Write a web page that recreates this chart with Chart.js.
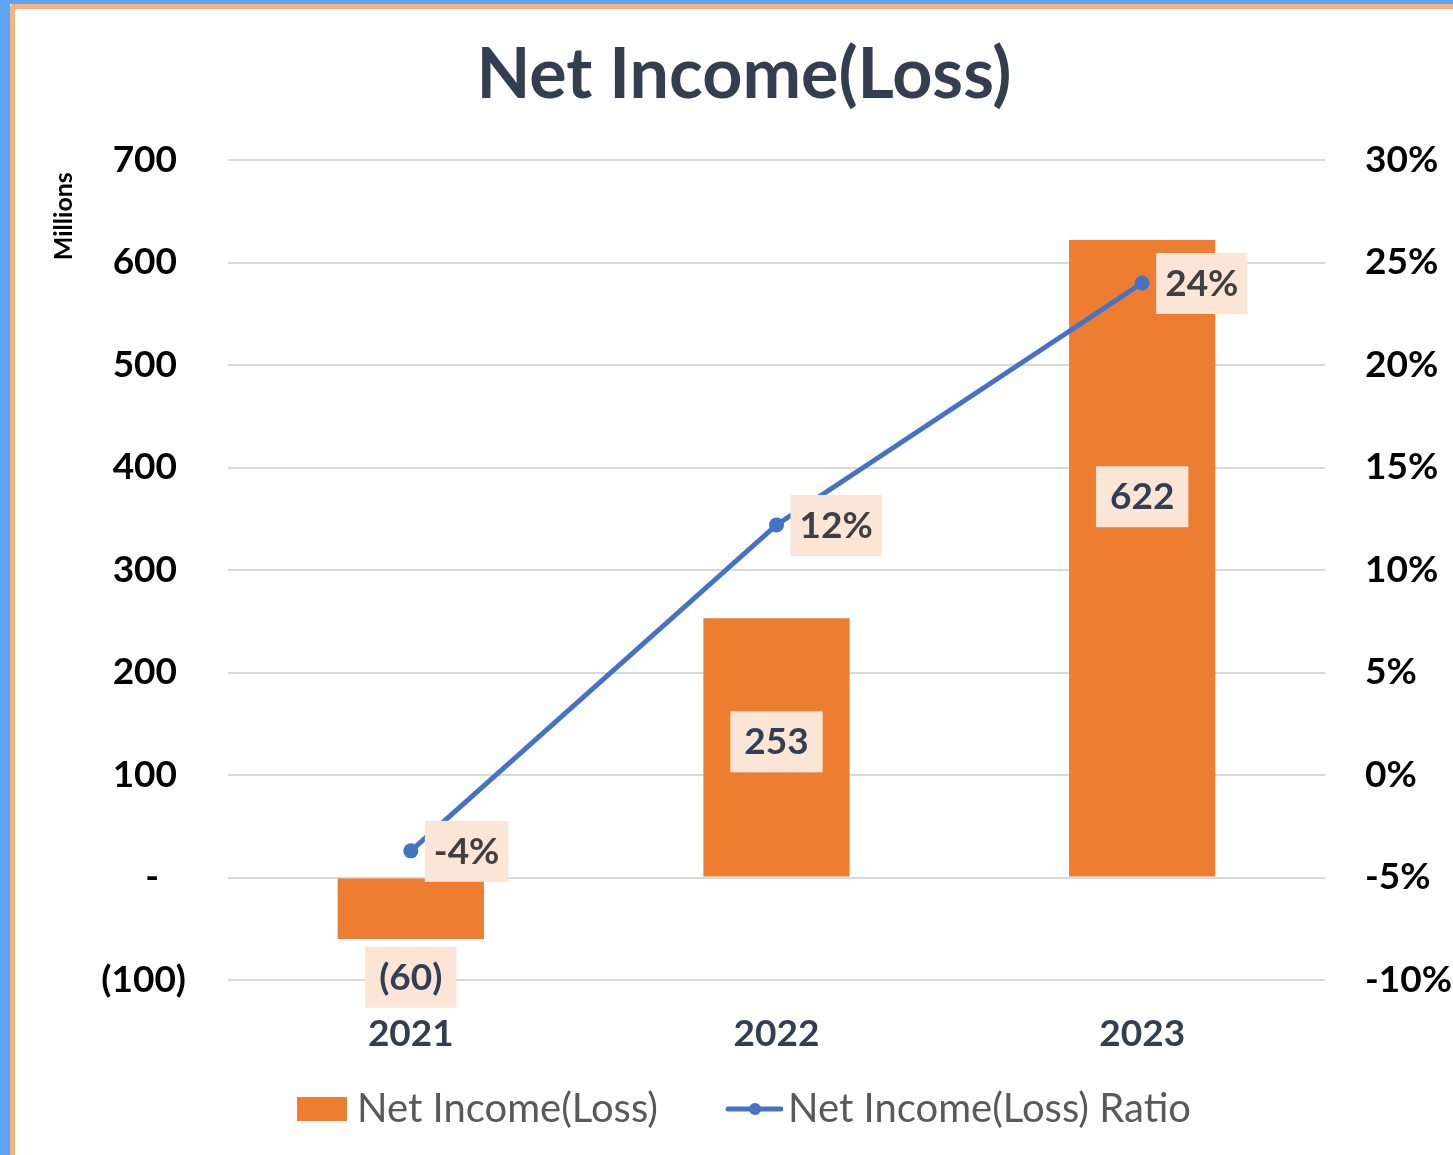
<!DOCTYPE html>
<html>
<head>
<meta charset="utf-8">
<script src="https://cdn.jsdelivr.net/npm/chart.js@4.4.0/dist/chart.umd.min.js"></script>
<style>
  html, body { margin: 0; padding: 0; background: #fff; overflow: hidden; }
  #wrap { position: relative; width: 1453px; height: 1155px; }
  canvas { position: absolute; left: 0; top: 0; }
  .edge { position: absolute; }
</style>
</head>
<body>
<div id="wrap">
  <canvas id="chart" width="1453" height="1155"></canvas>
  <div class="edge" style="left:0;top:0;width:1453px;height:4px;background:#5fa4f4"></div>
  <div class="edge" style="left:0;top:0;width:10px;height:1155px;background:#5fa4f4"></div>
  <div class="edge" style="left:10px;top:4px;width:1443px;height:5px;background:#f5b183;border-top-left-radius:4px"></div>
  <div class="edge" style="left:10px;top:4px;width:5px;height:1151px;background:#f5b183;border-top-left-radius:4px"></div>
</div>
<script>
// data
const years = ["2021", "2022", "2023"];
const netIncome = [-60, 253, 622];
const netIncomeRatio = [-3.7, 12.2, 24.0];
const leftTicks = [-100, 0, 100, 200, 300, 400, 500, 600, 700];
const rightTicks = [-10, -5, 0, 5, 10, 15, 20, 25, 30];

const orange = "#ed7d31";
const blue = "#4472c4";
const navy = "#333f50";

// where each bar label sits relative to the bar middle (excel labels were dragged)
const barLabelNudge = [68, -6, -62];

function fmtMillions(v) {
  if (v === 0) return "-";
  if (v < 0) return "(" + Math.abs(v) + ")";
  return String(v);
}

// legend swatches as little canvases
function swatch(w, h, draw) {
  const c = document.createElement("canvas");
  c.width = w; c.height = h;
  draw(c.getContext("2d"));
  return c;
}
const barSwatch = swatch(60, 24, function (g) {
  g.fillStyle = orange;
  g.fillRect(10, 0, 50, 24);
});
const lineSwatch = swatch(70, 16, function (g) {
  g.strokeStyle = blue;
  g.lineWidth = 5;
  g.lineCap = "round";
  g.beginPath(); g.moveTo(15, 8); g.lineTo(68, 8); g.stroke();
  g.fillStyle = blue;
  g.beginPath(); g.arc(42, 8, 6, 0, Math.PI * 2); g.fill();
});

// draws the boxed data labels
const boxLabels = {
  id: "boxLabels",
  afterDatasetsDraw(chart) {
    const ctx = chart.ctx;
    ctx.save();
    ctx.font = "bold 37px Lato";
    ctx.textBaseline = "middle";
    ctx.textAlign = "center";

    chart.getDatasetMeta(0).data.forEach(function (bar, i) {
      const txt = fmtMillions(netIncome[i]);
      const w = ctx.measureText(txt).width + 28;
      const cy = (bar.y + bar.base) / 2 + barLabelNudge[i];
      ctx.fillStyle = "#fbe5d6";
      ctx.fillRect(bar.x - w / 2, cy - 30, w, 61);
      ctx.fillStyle = navy;
      ctx.fillText(txt, bar.x, cy + 1);
    });

    chart.getDatasetMeta(1).data.forEach(function (pt, i) {
      const txt = Math.round(netIncomeRatio[i]) + "%";
      const w = ctx.measureText(txt).width + 18;
      const left = pt.x + 14;
      ctx.fillStyle = "#fbe5d6";
      ctx.fillRect(left, pt.y - 30, w, 61);
      ctx.fillStyle = "#404040";
      ctx.fillText(txt, left + w / 2, pt.y + 1);
    });
    ctx.restore();
  }
};

const ctx = document.getElementById("chart").getContext("2d");
const chart = new Chart(ctx, {
  data: {
    labels: years,
    datasets: [
      {
        type: "bar",
        label: "Net Income(Loss)",
        data: netIncome,
        backgroundColor: orange,
        barPercentage: 0.4,
        categoryPercentage: 1.0,
        yAxisID: "y",
        order: 2,
      },
      {
        type: "line",
        label: "Net Income(Loss) Ratio",
        data: netIncomeRatio,
        borderColor: blue,
        backgroundColor: blue,
        borderWidth: 5,
        pointRadius: 7.5,
        pointBackgroundColor: blue,
        pointBorderWidth: 0,
        tension: 0,
        yAxisID: "y1",
        order: 1,
      },
    ],
  },
  options: {
    responsive: false,
    animation: false,
    layout: { padding: { left: 35, right: 0, top: 9, bottom: 16 } },
    plugins: {
      tooltip: { enabled: false },
      title: {
        display: true,
        text: "Net Income(Loss)",
        color: navy,
        font: { family: "Lato", size: 70, weight: "bold", lineHeight: 1.2 },
        padding: { top: 24, bottom: 43 },
      },
      legend: {
        position: "bottom",
        labels: {
          usePointStyle: true,
          pointStyleWidth: 40,
          padding: 10,
          color: "#595959",
          font: { family: "Lato", size: 40 },
          generateLabels: function (chart) {
            return [
              { text: "Net Income(Loss)" + "\u2003\u2002\u2005", pointStyle: barSwatch, fontColor: "#595959", lineWidth: 0, datasetIndex: 0 },
              { text: "Net Income(Loss) Ratio", pointStyle: lineSwatch, fontColor: "#595959", lineWidth: 0, datasetIndex: 1 },
            ];
          },
        },
      },
    },
    scales: {
      x: {
        grid: { display: false },
        border: { display: false },
        ticks: {
          color: navy,
          padding: 24,
          font: { family: "Lato", size: 37, weight: "bold" },
        },
        afterFit: function (scale) { scale.height = 99; },
      },
      y: {
        position: "left",
        min: -100,
        max: 700,
        afterBuildTicks: function (scale) {
          scale.ticks = leftTicks.map(function (v) { return { value: v }; });
        },
        grid: { color: "#d9d9d9", lineWidth: 2, drawTicks: false },
        border: { display: false },
        ticks: {
          color: "#000",
          padding: 42,
          font: { family: "Lato", size: 37, weight: "bold" },
          callback: function (v) {
            if (v === 0) return "-   ";
            return fmtMillions(v) + (v > 0 ? " " : "");
          },
        },
        title: {
          display: true,
          text: "Millions  ",
          align: "end",
          color: "#000",
          font: { family: "Lato", size: 25, weight: "bold" },
          padding: { top: 14, bottom: 0 },
        },
        afterFit: function (scale) { scale.width = 193; },
      },
      y1: {
        position: "right",
        min: -10,
        max: 30,
        afterBuildTicks: function (scale) {
          scale.ticks = rightTicks.map(function (v) { return { value: v }; });
        },
        grid: { drawOnChartArea: false, drawTicks: false },
        border: { display: false },
        ticks: {
          color: "#000",
          padding: 40,
          font: { family: "Lato", size: 37, weight: "bold" },
          callback: function (v) { return v + "%"; },
        },
        afterFit: function (scale) { scale.width = 128; },
      },
    },
  },
  plugins: [boxLabels],
});
</script>
</body>
</html>
